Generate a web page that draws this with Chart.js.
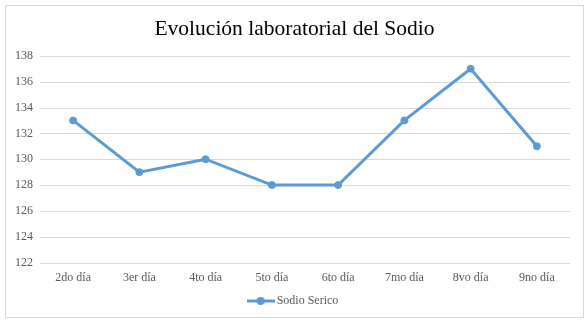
<!DOCTYPE html>
<html>
<head>
<meta charset="utf-8">
<script src="https://cdn.jsdelivr.net/npm/chart.js@4/dist/chart.umd.min.js"></script>
<style>
  html, body { margin: 0; padding: 0; background: #fff; }
  #frame {
    position: absolute; left: 5px; top: 5px;
    width: 577px; height: 311px;
    border: 1px solid #d9d9d9;
    background: #fff;
  }
  #chart { display: block; }
</style>
</head>
<body>
<div id="frame"><canvas id="chart" width="577" height="311"></canvas></div>
<script>
const dias = ['2do día', '3er día', '4to día', '5to día', '6to día', '7mo día', '8vo día', '9no día']
const sodioSerico = [133, 129, 130, 128, 128, 133, 137, 131]
const yMin = 122
const yMax = 138
const yStep = 2

const azul = '#5b9bd5'
const gris = '#595959'
const serif = "'Liberation Serif', 'Times New Roman', serif"

// legend marker: short line with a dot in the middle
function legendMarker() {
  const c = document.createElement('canvas')
  c.width = 28
  c.height = 10
  const g = c.getContext('2d')
  g.strokeStyle = azul
  g.lineWidth = 3
  g.beginPath()
  g.moveTo(0, 5)
  g.lineTo(28, 5)
  g.stroke()
  g.fillStyle = azul
  g.beginPath()
  g.arc(14, 5, 4, 0, Math.PI * 2)
  g.fill()
  return c
}

// horizontal gridlines across the plot area only
const gridPlugin = {
  id: 'gridH',
  beforeDatasetsDraw(chart) {
    const { ctx, chartArea, scales } = chart
    ctx.save()
    ctx.strokeStyle = '#d9d9d9'
    ctx.lineWidth = 1
    scales.y.ticks.forEach(t => {
      const y = Math.round(scales.y.getPixelForValue(t.value)) + 0.5
      ctx.beginPath()
      ctx.moveTo(chartArea.left, y)
      ctx.lineTo(chartArea.right, y)
      ctx.stroke()
    })
    ctx.restore()
  }
}

new Chart(document.getElementById('chart'), {
  type: 'line',
  data: {
    labels: dias,
    datasets: [{
      label: 'Sodio Serico',
      data: sodioSerico,
      borderColor: azul,
      backgroundColor: azul,
      borderWidth: 3,
      pointRadius: 3.5,
      pointBorderWidth: 1,
      pointBackgroundColor: azul,
      pointBorderColor: azul,
      tension: 0
    }]
  },
  plugins: [gridPlugin],
  options: {
    responsive: false,
    animation: false,
    layout: { padding: { left: 13, right: 13, top: 4, bottom: 0 } },
    scales: {
      x: {
        offset: true,
        grid: { display: false, drawTicks: false },
        border: { display: false },
        ticks: { color: gris, font: { family: serif, size: 12 }, padding: 8, maxRotation: 0 }
      },
      y: {
        min: yMin,
        max: yMax,
        grid: { display: false, drawTicks: false },
        border: { display: false },
        afterFit(scale) { scale.width = 21 },
        // labels sit left of the scale box, so draw them unclipped
        ticks: {
          stepSize: yStep, color: gris, font: { family: serif, size: 12 },
          mirror: true, crossAlign: 'near', padding: -25
        }
      }
    },
    plugins: {
      title: {
        display: true,
        text: 'Evolución laboratorial del Sodio',
        color: '#000',
        font: { family: serif, size: 21.5, weight: 'normal' },
        padding: { top: 6, bottom: 14 }
      },
      legend: {
        position: 'bottom',
        labels: {
          color: gris,
          font: { family: serif, size: 12 },
          usePointStyle: true,
          pointStyle: legendMarker(),
          pointStyleWidth: 20,
          boxHeight: 10,
          padding: 2
        }
      },
      tooltip: { enabled: false }
    }
  }
})
</script>
</body>
</html>
